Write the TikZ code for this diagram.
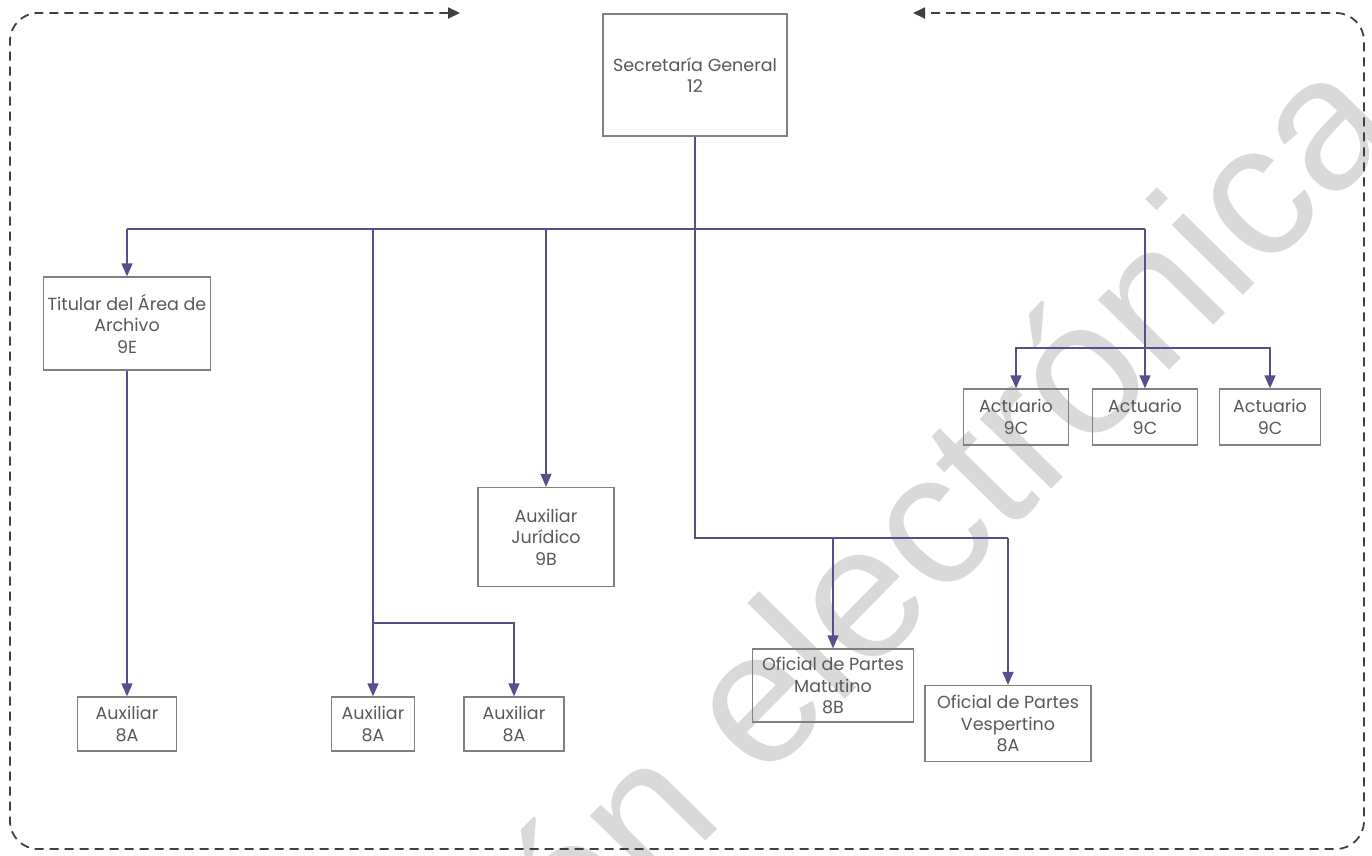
\documentclass[tikz,border=0pt]{standalone}
\usepackage{fontspec}
\setmainfont{Poppins}
\newfontfamily\wmfont{Liberation Sans}
\usetikzlibrary{arrows.meta}
\definecolor{linec}{HTML}{5B4D8A}
\definecolor{boxc}{HTML}{808080}
\definecolor{txtc}{HTML}{585858}
\definecolor{framec}{HTML}{404040}
\definecolor{wmc}{HTML}{D9D9D9}
\begin{document}
\begin{tikzpicture}[x=1pt,y=-1pt,
  box/.style={draw=boxc, line width=1.3pt, inner sep=0pt, align=center, text=txtc,
    font=\fontsize{17.5}{21.5}\selectfont},
  conn/.style={draw=linec, line width=1.6pt},
  arr/.style={conn, -{Triangle[length=13pt,width=11pt]}},
  frame/.style={draw=framec, line width=1.8pt, dash pattern=on 9pt off 6pt,
    rounded corners=28pt},
  wm/.style={font=\wmfont\fontsize{189}{189}\selectfont, text=wmc, inner sep=0pt}
]
\useasboundingbox (0,0) rectangle (1372,855);
\clip (0,0) rectangle (1372,855);

% watermark
\node[wm, rotate=45.5, anchor=base] (wmark) at (844,701) {Versión electrónica};

% frame
\draw[frame, {Triangle[length=12pt,width=11pt]}-{Triangle[length=12pt,width=11pt]}]
  (460,13) -- (10,13) -- (10,849) -- (1364,849) -- (1364,13) -- (913,13);

% boxes
\node[box, minimum width=184pt, minimum height=122pt] (sec) at (695,75) {Secretaría General\\12};
\node[box, minimum width=167pt, minimum height=93pt] (tit) at (127,323.5) {Titular del Área de\\Archivo\\9E};
\node[box, minimum width=99pt, minimum height=54pt] (aux1) at (127,724) {Auxiliar\\8A};
\node[box, minimum width=83pt, minimum height=54pt] (aux2) at (373,724) {Auxiliar\\8A};
\node[box, minimum width=100pt, minimum height=54pt] (aux3) at (514,724) {Auxiliar\\8A};
\node[box, minimum width=136pt, minimum height=99pt] (jur) at (546,537) {Auxiliar\\Jurídico\\9B};
\node[box, minimum width=161pt, minimum height=73pt] (mat) at (833,685.5) {Oficial de Partes\\Matutino\\8B};
\node[box, minimum width=166pt, minimum height=76pt] (vesp) at (1008,723.5) {Oficial de Partes\\Vespertino\\8A};
\node[box, minimum width=105pt, minimum height=56pt] (act1) at (1016,417) {Actuario\\9C};
\node[box, minimum width=105pt, minimum height=56pt] (act2) at (1145,417) {Actuario\\9C};
\node[box, minimum width=101pt, minimum height=56pt] (act3) at (1270,417) {Actuario\\9C};

% junctions
\coordinate (b1) at (127,229);
\coordinate (b2) at (373,229);
\coordinate (b3) at (546,229);
\coordinate (b4) at (1145,229);
\coordinate (mj) at (833,538);
\coordinate (vj) at (1008,538);
\coordinate (aj) at (373,623);
\coordinate (cj) at (1145,348);

% connectors
\draw[conn] (b1) -- (b4);
\draw[conn] (sec.south) |- (vj);
\draw[arr] (vj) -- (vesp.north);
\draw[arr] (mj) -- (mat.north);
\draw[arr] (b1) -- (tit.north);
\draw[arr] (tit.south) -- (aux1.north);
\draw[arr] (b2) -- (aux2.north);
\draw[arr] (aj) -| (aux3.north);
\draw[arr] (b3) -- (jur.north);
\draw[arr] (b4) -- (act2.north);
\draw[arr] (cj) -| (act1.north);
\draw[arr] (cj) -| (act3.north);
\end{tikzpicture}
\end{document}
